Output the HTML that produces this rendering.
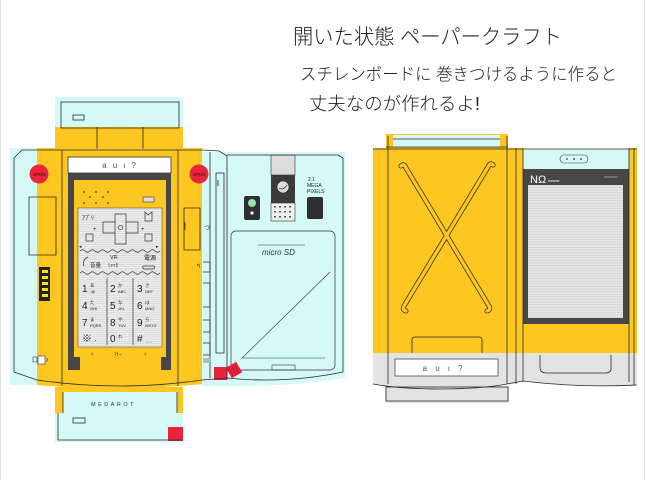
<!DOCTYPE html>
<html><head><meta charset="utf-8">
<style>
html,body{margin:0;padding:0;background:#fff;}
svg{display:block;}
text{font-family:"Liberation Sans","Noto Sans CJK JP",sans-serif;}
</style></head><body>
<svg width="646" height="480" viewBox="0 0 646 480" xmlns="http://www.w3.org/2000/svg">
<defs>
<pattern id="ln" width="4" height="2.2" patternUnits="userSpaceOnUse"><rect width="4" height="2.2" fill="#ececec"/><rect width="4" height="0.6" fill="#d2d2d2"/></pattern>
<pattern id="ln2" width="4" height="2.6" patternUnits="userSpaceOnUse"><rect width="4" height="2.6" fill="#e6e6e6"/><rect width="4" height="0.7" fill="#cfcfcf"/></pattern>
</defs>
<rect width="646" height="480" fill="#fff"/>
<line x1="0.5" y1="0" x2="0.5" y2="480" stroke="#e2e2e2"/>
<line x1="644.5" y1="0" x2="644.5" y2="480" stroke="#dcdcdc"/>

<!-- Title -->
<g fill="#1e1e1e" font-weight="300">
<text x="293" y="44" font-size="21" textLength="269" lengthAdjust="spacingAndGlyphs" style="font-family:'Liberation Sans','Noto Sans CJK JP',sans-serif">開いた状態 ペーパークラフト</text>
<text x="300" y="80" font-size="17" textLength="317" lengthAdjust="spacingAndGlyphs" style="font-family:'Liberation Sans','Noto Sans CJK JP',sans-serif">スチレンボードに 巻きつけるように作ると</text>
<text x="309" y="110" font-size="18" textLength="171" lengthAdjust="spacingAndGlyphs" style="font-family:'Liberation Sans','Noto Sans CJK JP',sans-serif">丈夫なのが作れるよ!</text>
</g>

<!-- ================= LEFT SHEET ================= -->
<!-- cyan -->
<rect x="55" y="97" width="128" height="31" fill="#d4f9f7"/>
<rect x="10" y="148" width="192" height="237" fill="#d4f9f7"/>
<path d="M202,152 H345 V378 Q280,388 202,386 Z" fill="#d4f9f7"/>
<rect x="55" y="387" width="128" height="55" fill="#d4f9f7"/>
<!-- yellow -->
<rect x="55" y="127" width="128" height="23" fill="#fec620"/>
<path d="M37,148 H202 V384 Q120,392 37,385 Z" fill="#fec620"/>
<path d="M55,387 H183 V413 H177 V392 H63 V413 H55 Z" fill="#fec620"/>

<!-- red open circles -->
<g>
<circle cx="39" cy="174" r="9.5" fill="#e8263a"/>
<circle cx="199" cy="174" r="9.5" fill="#e8263a"/>
<text x="39" y="176" font-size="4.5" text-anchor="middle" fill="#3a0a10">OPEN</text>
<text x="199" y="176" font-size="4.5" text-anchor="middle" fill="#3a0a10">OPEN</text>
</g>

<!-- au label -->
<rect x="68" y="157" width="103" height="16" fill="#fff" stroke="#333" stroke-width="0.8"/>
<text x="120" y="168" font-size="8" text-anchor="middle" fill="#555" letter-spacing="2">a u ι ?</text>

<!-- dark frame -->
<path d="M68,173 H171 V370 H161 V357 H166 V180 H74 V357 H80 V370 H68 Z" fill="#464646"/>

<!-- speaker dots -->
<g fill="#7a5a10">
<circle cx="84" cy="192" r="1"/><circle cx="96" cy="192" r="1"/><circle cx="108" cy="192" r="1"/>
<circle cx="90" cy="197" r="1"/><circle cx="103" cy="197" r="1"/>
<circle cx="84" cy="203" r="1"/><circle cx="96" cy="203" r="1"/><circle cx="108" cy="203" r="1"/>
</g>
<rect x="143" y="197" width="11" height="5" fill="#e0e0e0" stroke="#333" stroke-width="0.6"/>

<!-- keypad -->
<rect x="78" y="208" width="84" height="139" fill="url(#ln)" stroke="#555" stroke-width="0.6"/>
<g fill="none" stroke="#333" stroke-width="0.7">
<path d="M115,214 H126 V222 H138 V233 H126 V244 H115 V233 H103 V222 H115 Z"/>
<path d="M115,222 V233 M126,222 V233"/>
<circle cx="120.5" cy="227.5" r="2.2"/>
<path d="M145,212 L148,215 L152,212 V221 H145 Z"/>
<rect x="86" y="234" width="7" height="7"/>
<rect x="145" y="234" width="7" height="7"/>
<path d="M80,251 q2.5,-2.5 5,0 t5,0 t5,0 t5,0 t5,0 t5,0 t5,0 t5,0 t5,0 t5,0 t5,0 t5,0 t5,0 t5,0 t5,0 t5,0"/>
<path d="M80,273 q2.5,-2.5 5,0 t5,0 t5,0 t5,0 t5,0 t5,0 t5,0 t5,0 t5,0 t5,0 t5,0 t5,0 t5,0 t5,0 t5,0 t5,0"/>
<path d="M107,278 V345 M133,278 V345"/>
<path d="M84,266 q-2,-6 4,-9 M143,266 h11 q2,2 -1,3 h-9 q-2,-1 -1,-3"/>
</g>
<g fill="#222" font-size="6">
<text x="82" y="220">ｱﾌﾟﾘ</text>
<text x="93" y="231">+</text><text x="141" y="231">+</text>
<text x="79" y="248" font-size="5">◂</text><text x="156" y="248" font-size="5">▸</text>
<text x="110" y="259" font-size="5.5">VR</text>
<text x="108" y="267" font-size="5">ｼｬｯﾀ</text>
<text x="90" y="267" font-size="5.5">音量</text>
<text x="144" y="260" font-size="6">電源</text>
</g>
<g fill="#222" font-size="10">
<text x="82" y="292">1</text><text x="90" y="287" font-size="4.5">あ</text><text x="90" y="293" font-size="4">.@</text>
<text x="110" y="292">2</text><text x="118" y="287" font-size="4.5">か</text><text x="118" y="293" font-size="4">ABC</text>
<text x="137" y="292">3</text><text x="145" y="287" font-size="4.5">さ</text><text x="145" y="293" font-size="4">DEF</text>
<text x="82" y="309">4</text><text x="90" y="304" font-size="4.5">た</text><text x="90" y="310" font-size="4">GHI</text>
<text x="110" y="309">5</text><text x="118" y="304" font-size="4.5">な</text><text x="118" y="310" font-size="4">JKL</text>
<text x="137" y="309">6</text><text x="145" y="304" font-size="4.5">は</text><text x="145" y="310" font-size="4">MNO</text>
<text x="82" y="326">7</text><text x="90" y="321" font-size="4.5">ま</text><text x="90" y="327" font-size="4">PQRS</text>
<text x="110" y="326">8</text><text x="118" y="321" font-size="4.5">や</text><text x="118" y="327" font-size="4">TUV</text>
<text x="137" y="326">9</text><text x="145" y="321" font-size="4.5">ら</text><text x="145" y="327" font-size="4">WXYZ</text>
<text x="82" y="342">※</text><text x="92" y="342" font-size="4">..+</text>
<text x="110" y="342">0</text><text x="118" y="338" font-size="4.5">わ</text>
<text x="137" y="342">#</text><text x="146" y="342" font-size="4">_ _</text>
</g>
<g fill="#333" font-size="6">
<text x="90" y="356">♀</text><text x="114" y="356" font-size="5">ﾏﾅｰ</text><text x="143" y="356">♀</text>
</g>

<!-- battery contacts -->
<rect x="39" y="267" width="11" height="34" fill="#222"/>
<g fill="#f3e41c">
<rect x="42" y="270" width="6" height="3"/><rect x="42" y="276" width="6" height="3"/><rect x="42" y="282" width="6" height="3"/><rect x="42" y="288" width="6" height="3"/><rect x="42" y="294" width="6" height="3"/>
</g>
<rect x="38" y="356" width="7" height="8" fill="#fff" stroke="#333" stroke-width="0.6"/>
<path d="M33,357 h4 v5 h-4 z M46,358 q3,1 0,4" fill="none" stroke="#333" stroke-width="0.6"/>

<!-- back panel items -->
<rect x="271" y="155" width="24" height="20" fill="#dcdcdc" stroke="#333" stroke-width="0.6"/>
<rect x="271" y="175" width="24" height="28" fill="#3a3a3a"/>
<circle cx="283" cy="187" r="6" fill="#ddd" stroke="#222" stroke-width="0.6"/>
<path d="M279,188 q4,3 8,-3" fill="none" stroke="#333" stroke-width="0.7"/>
<rect x="271" y="203" width="24" height="18" fill="#eee" stroke="#333" stroke-width="0.6"/>
<g fill="#555">
<rect x="274" y="206" width="2" height="1.5"/><rect x="279" y="206" width="2" height="1.5"/><rect x="284" y="206" width="2" height="1.5"/><rect x="289" y="206" width="2" height="1.5"/>
<rect x="274" y="211" width="2" height="1.5"/><rect x="279" y="211" width="2" height="1.5"/><rect x="284" y="211" width="2" height="1.5"/><rect x="289" y="211" width="2" height="1.5"/>
<rect x="274" y="216" width="2" height="1.5"/><rect x="279" y="216" width="2" height="1.5"/><rect x="284" y="216" width="2" height="1.5"/><rect x="289" y="216" width="2" height="1.5"/>
</g>
<rect x="244" y="196" width="16" height="24" rx="2" fill="#2e2e2e"/>
<circle cx="252" cy="203" r="4" fill="#8fe6a6"/>
<circle cx="252" cy="213" r="1.6" fill="#fff"/>
<rect x="307" y="197" width="16" height="22" rx="2" fill="#2e2e2e"/>
<g fill="#222" font-size="5">
<text x="308" y="181">2.1</text><text x="307" y="187">MEGA</text><text x="307" y="193">PIXELS</text>
</g>
<rect x="231" y="231" width="104" height="139" rx="5" fill="none" stroke="#333" stroke-width="0.7"/>
<path d="M258,245 H305 M330,272 L242,358 M242,358 H325" fill="none" stroke="#333" stroke-width="0.6"/>
<text x="262" y="255" font-size="8" fill="#333" font-style="italic">micro SD</text>
<rect x="272" y="365" width="23" height="5" fill="none" stroke="#333" stroke-width="0.6"/>
<!-- red tabs -->
<rect x="214" y="367" width="13" height="13" fill="#e8243c"/>
<rect x="228" y="364" width="12" height="12" fill="#e8243c" transform="rotate(-30 234 370)"/>
<path d="M229,368 l4,8 M232,366 l4,8 M235,365 l4,8" stroke="#8a0f1e" stroke-width="0.5"/>
<rect x="168" y="427" width="15" height="14" fill="#e8243c"/>

<!-- left sheet outlines -->
<g fill="none" stroke="#2a2a2a" stroke-width="0.8">
<rect x="61" y="102" width="118" height="26"/>
<rect x="73" y="115" width="11" height="5"/>
<path d="M97,127 V149 M143,127 V149"/>
<path d="M14,372 V158 L22,150 H202 L219,151 L227,156 V380"/>
<path d="M14,372 L37,380 Q120,392 202,380 L227,378 Q285,384 343,372 V158 L338,155 H227"/>
<path d="M62,150 V386 M178,150 V386"/>
<path d="M29,197 H56 V255 H29 Z"/>
<path d="M184,208 H200 V250 H184 Z M185,222 v8"/>
<path d="M210,152 V378 M216,173 H224 V353 H216 Z M218,180 v6"/>
<path d="M203,262 h7 v10 h-7 M203,283 h7 v24 h-7 M203,320 h7 v12 h-7 M203,343 h7 v12 h-7"/>
<path d="M63,392 V413 M177,392 V413 M58,413 V440 H182"/>
<rect x="73" y="418" width="12" height="5"/>
</g>
<rect x="203" y="358" width="7" height="5" fill="#bbb"/>
<text x="91" y="406" font-size="5.5" fill="#333" letter-spacing="2.5">MEDAROT</text>
<text x="204" y="230" font-size="6" fill="#333">つ</text>
<text x="196" y="268" font-size="6" fill="#333">↰</text>

<!-- ================= RIGHT SHEET ================= -->
<rect x="386" y="134" width="122" height="16" fill="#fec620"/>
<rect x="393" y="135" width="107" height="12" fill="#d4f9f7"/>
<rect x="373" y="148" width="150" height="206" fill="#fec620"/>
<rect x="523" y="149" width="106" height="20" fill="#d4f9f7"/>
<rect x="523" y="169" width="106" height="156" fill="#474747"/>
<rect x="528" y="185" width="95" height="133" fill="url(#ln2)"/>
<rect x="523" y="324" width="106" height="30" fill="#fec620"/>
<rect x="629" y="148" width="8" height="206" fill="#fec620"/>
<path d="M373,353 H637 V385 Q580,388 523,381 Q470,391 420,388 Q395,387 373,384 Z" fill="#e3e3e3"/>
<rect x="385" y="386" width="124" height="17" fill="#e3e3e3"/>

<!-- X -->
<g fill="none" stroke-linecap="round">
<path d="M401,166 q3,-3 5,2 L489,306 q2,4 -2,5" stroke="#333" stroke-width="5"/>
<path d="M493,165 q-3,-3 -5,2 L404,306 q-2,4 2,5" stroke="#333" stroke-width="5"/>
<path d="M401,166 q3,-3 5,2 L489,306 q2,4 -2,5" stroke="#fec620" stroke-width="3.4"/>
<path d="M493,165 q-3,-3 -5,2 L404,306 q-2,4 2,5" stroke="#fec620" stroke-width="3.4"/>
</g>

<rect x="395" y="359" width="103" height="17" fill="#fff" stroke="#333" stroke-width="0.7"/>
<text x="444" y="371" font-size="8" text-anchor="middle" fill="#555" letter-spacing="3">a u ι ?</text>

<rect x="560" y="155" width="28" height="8" rx="4" fill="none" stroke="#333" stroke-width="0.6"/>
<circle cx="567" cy="159" r="0.9" fill="#333"/><circle cx="574" cy="159" r="0.9" fill="#333"/><circle cx="581" cy="159" r="0.9" fill="#333"/>
<text x="530" y="183" font-size="11" fill="#fff">NΩ</text>
<text x="548" y="182" font-size="4" fill="#fff">wwww</text>
<path d="M604,177 h14" stroke="#aaa" stroke-width="0.8"/>

<g fill="none" stroke="#2a2a2a" stroke-width="0.8">
<path d="M388,136 V384 M507,136 V384 M393,139 H500 M386,147 H508"/>
<path d="M516,148 V384 M523,148 V382 M629,148 V382 M634,148 V385"/>
<path d="M373,149 H637"/>
<path d="M373,384 Q400,389 440,389 Q480,389 507,384 L523,381 Q580,388 637,385"/>
<path d="M412,353 V340 Q412,337 415,337 H479 Q482,337 482,340 V353"/>
<path d="M540,355 V369 Q541,373 547,373 H605 Q611,373 611,369 V355"/>
<rect x="386" y="387" width="122" height="14"/>
</g>
</svg>
</body></html>
